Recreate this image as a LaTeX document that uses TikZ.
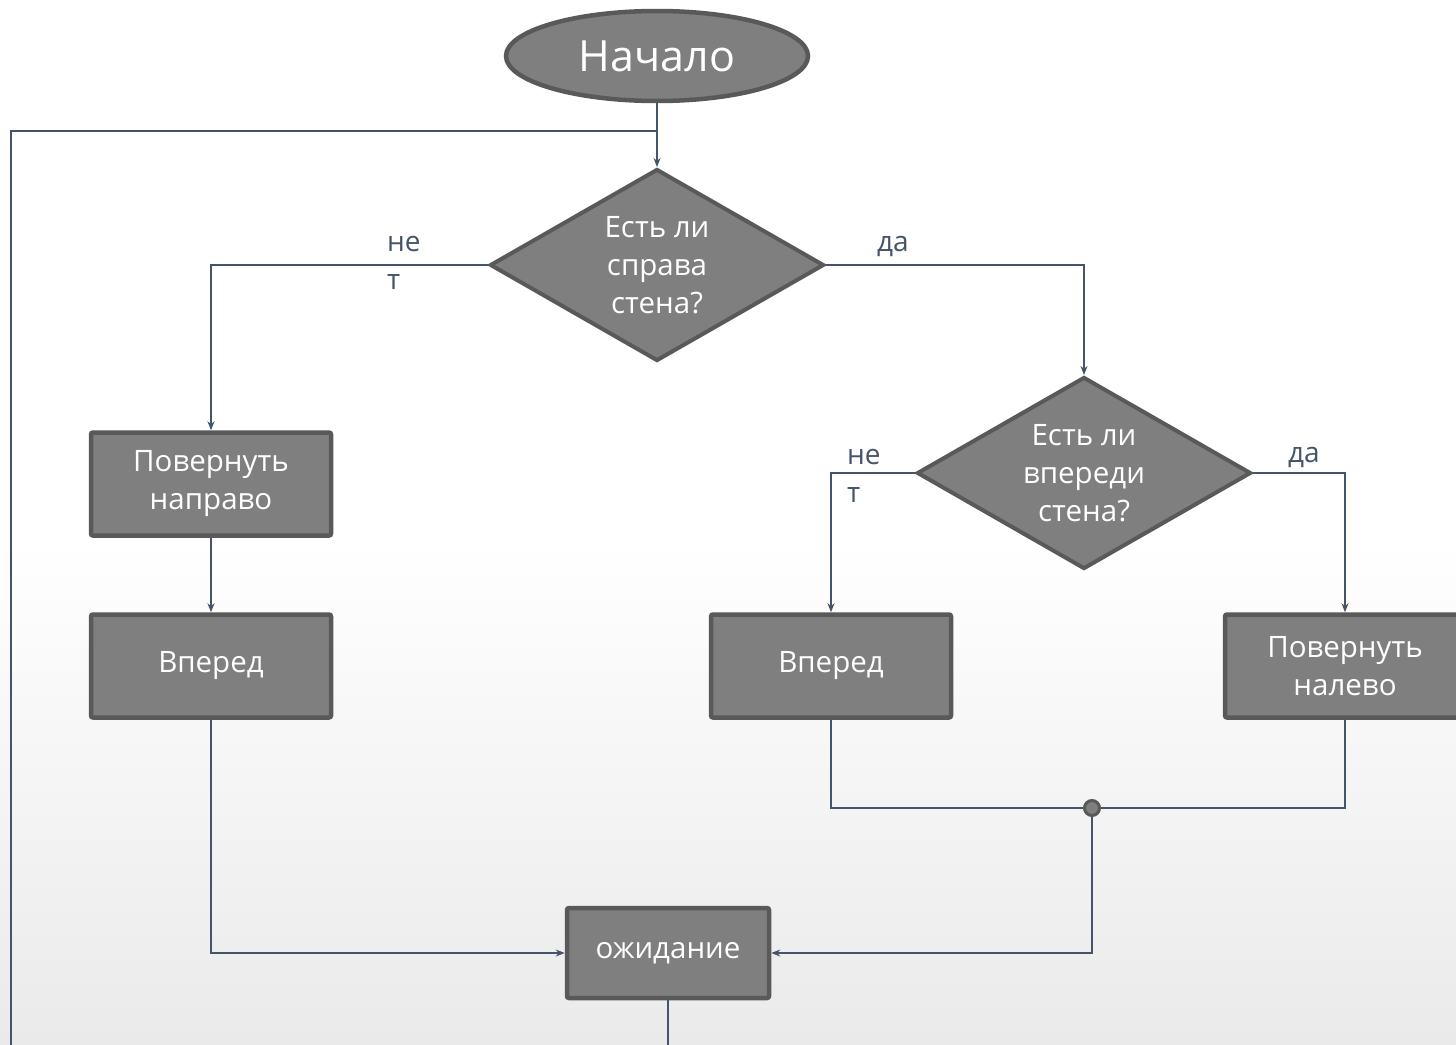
\documentclass[tikz,border=0pt]{standalone}
\usepackage{fontspec}
\setmainfont{Open Sans}
\usetikzlibrary{shapes.geometric,arrows.meta}
\definecolor{boxfill}{HTML}{7F7F7F}
\definecolor{boxline}{HTML}{595959}
\definecolor{conn}{HTML}{44546A}
\definecolor{bgbot}{HTML}{EAEAEA}
\tikzset{
  blk/.style={draw=boxline, line width=4.5pt, fill=boxfill, rounded corners=2pt, text=white,
    minimum width=240pt, minimum height=103pt, align=center, inner sep=0pt,
    font=\fontsize{29.5}{38}\selectfont},
  dec/.style={draw=boxline, line width=4pt, fill=boxfill, diamond, text=white,
    minimum width=334pt, minimum height=192pt, aspect=1.74, inner sep=0pt, align=center,
    font=\fontsize{29.5}{38}\selectfont},
  conn/.style={draw=conn, line width=2pt},
  arr/.style={conn, -{Stealth[length=9pt,width=7pt]}},
  lbl/.style={text=conn, font=\fontsize{28}{38}\selectfont, inner sep=0pt, anchor=base west}
}
\begin{document}
\begin{tikzpicture}[x=1pt,y=-1pt]
\useasboundingbox (0,0) rectangle (1456,1044);
\clip (0,0) rectangle (1456,1044);
\fill[white] (0,0) rectangle (1456,540);
\shade[top color=white, bottom color=bgbot] (0,540) rectangle (1456,1044);
% nodes
\node[ellipse, draw=boxline, line width=4.5pt, fill=boxfill, text=white, minimum width=302pt, minimum height=90pt, inner sep=0pt, font=\fontsize{43}{50}\selectfont] (start) at (657,56) {Начало};
\node[dec] (d1) at (657,265) {Есть ли\\справа\\стена?};
\node[dec] (d2) at (1084,473) {Есть ли\\впереди\\стена?};
\node[blk] (tr) at (211,484) {Повернуть\\направо};
\node[blk] (f1) at (211,666) {Вперед};
\node[blk] (f2) at (831,666) {Вперед};
\node[blk] (tl) at (1345,666) {Повернуть\\налево};
\node[blk, minimum width=202pt, minimum height=90pt] (w) at (668,953) {ожидание};
\node[circle, draw=boxline, line width=3pt, fill=boxfill, minimum size=15pt, inner sep=0pt] (j) at (1092,808) {};
\coordinate (loopA) at (11,1060);
\coordinate (loopB) at (11,131);
\coordinate (loopC) at (657,131);
\coordinate (wout) at (668,1060);
% connectors
\draw[arr] (start.south) -- (d1.north);
\draw[conn] (loopA) -- (loopB) -- (loopC);
\draw[arr] (d1.west) -| (tr.north);
\draw[arr] (d1.east) -| (d2.north);
\draw[arr] (tr.south) -- (f1.north);
\draw[arr] (d2.west) -| (f2.north);
\draw[arr] (d2.east) -| (tl.north);
\draw[conn] (f2.south) |- (j.west);
\draw[conn] (tl.south) |- (j.east);
\draw[arr] (j.south) |- (w.east);
\draw[arr] (f1.south) |- (w.west);
\draw[conn] (w.south) -- (wout);
% labels
\node[lbl] (n1a) at (387,251) {не};
\node[lbl] (n1b) at (387,289) {т};
\node[lbl] (y1) at (877,251) {да};
\node[lbl] (n2a) at (847,464) {не};
\node[lbl] (n2b) at (847,502) {т};
\node[lbl] (y2) at (1288,462) {да};
\end{tikzpicture}
\end{document}
